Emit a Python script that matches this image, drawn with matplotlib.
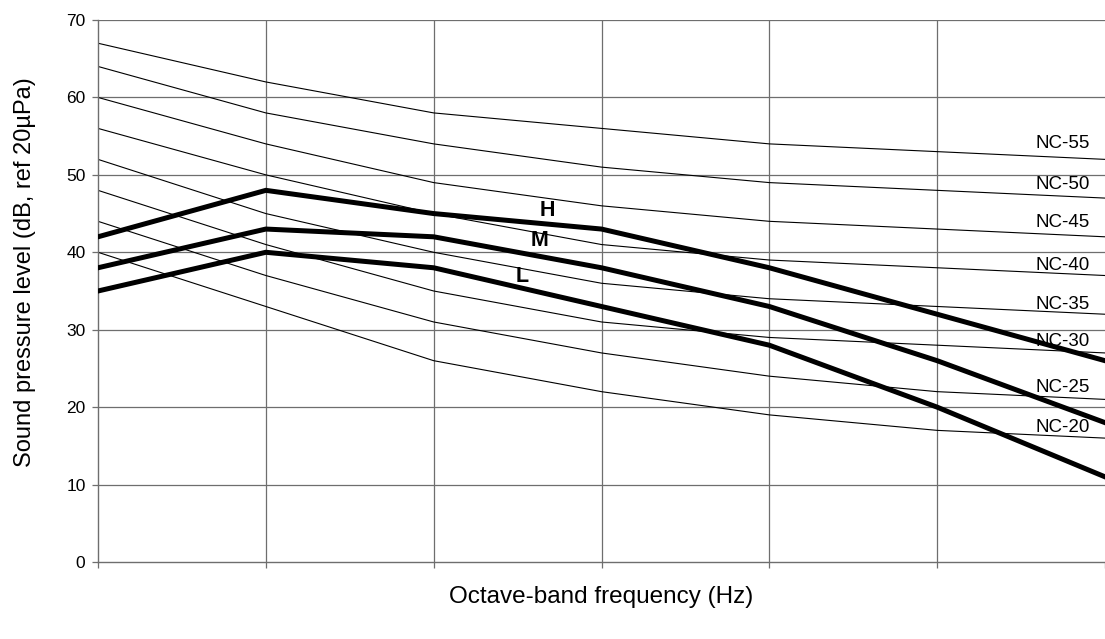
import matplotlib
matplotlib.use("Agg")
import matplotlib.pyplot as plt

plt.rcParams['font.family'] = ['Liberation Sans', 'DejaVu Sans']

# Octave bands 125 Hz .. 8 kHz (no tick labels shown)
bands = ["125", "250", "500", "1k", "2k", "4k", "8k"]

# Noise-criterion curves
nc_labels = ["NC-55", "NC-50", "NC-45", "NC-40", "NC-35", "NC-30", "NC-25", "NC-20"]
nc55 = [67, 62, 58, 56, 54, 53, 52]
nc50 = [64, 58, 54, 51, 49, 48, 47]
nc45 = [60, 54, 49, 46, 44, 43, 42]
nc40 = [56, 50, 45, 41, 39, 38, 37]
nc35 = [52, 45, 40, 36, 34, 33, 32]
nc30 = [48, 41, 35, 31, 29, 28, 27]
nc25 = [44, 37, 31, 27, 24, 22, 21]
nc20 = [40, 33, 26, 22, 19, 17, 16]
nc_curves = [nc55, nc50, nc45, nc40, nc35, nc30, nc25, nc20]
nc_label_y = [54.1, 48.8, 43.8, 38.3, 33.3, 28.5, 22.5, 17.4]

# Measured spectra
spec_names = ["H", "M", "L"]
spec_h = [42, 48, 45, 43, 38, 32, 26]
spec_m = [38, 43, 42, 38, 33, 26, 18]
spec_l = [35, 40, 38, 33, 28, 20, 11]
spectra = [spec_h, spec_m, spec_l]
spec_label_pos = [(2.68, 45.4), (2.63, 41.5), (2.53, 36.9)]

y_ticks = [0, 10, 20, 30, 40, 50, 60, 70]

fig = plt.figure(figsize=(11.05, 6.39), dpi=100)
ax = fig.add_axes([98 / 1105, 1 - 562 / 639, 1 - 98 / 1105, (562 - 20) / 639])

x = list(range(len(bands)))
grid_col = "#6e6e6e"

for yv in y_ticks[1:]:
    ax.axhline(yv, color=grid_col, lw=0.9, zorder=1)
for xv in x[1:-1]:
    ax.axvline(xv, color=grid_col, lw=0.9, zorder=1)

for vals in nc_curves:
    ax.plot(x, vals, color="black", lw=0.8, zorder=2)

for name, yv in zip(nc_labels, nc_label_y):
    ax.text(5.91, yv, name, ha="right", va="center", fontsize=13.5, zorder=2.5)

for vals in spectra:
    ax.plot(x, vals, color="black", lw=3.6, solid_joinstyle="miter", zorder=3)

for name, (px, py) in zip(spec_names, spec_label_pos):
    ax.text(px, py, name, ha="center", va="center", fontsize=15.5,
            fontweight="bold", zorder=4)

ax.set_xlim(0, 6)
ax.set_ylim(0, 70)
ax.set_yticks(y_ticks)
ax.set_xticks(x)
ax.set_xticklabels([])
ax.tick_params(axis="both", direction="out", length=4, width=0.9,
               color=grid_col, labelsize=12.5)
ax.tick_params(axis="y", pad=5)

for side in ["top", "right"]:
    ax.spines[side].set_visible(False)
for side in ["left", "bottom"]:
    ax.spines[side].set_color(grid_col)
    ax.spines[side].set_linewidth(1.0)

fig.text(25 / 1105, 1 - 272 / 639, "Sound pressure level (dB, ref 20µPa)",
         rotation=90, ha="center", va="center", fontsize=17)
fig.text(601 / 1105, 1 - 597 / 639, "Octave-band frequency (Hz)",
         ha="center", va="center", fontsize=17.5)

fig.savefig("out.png", dpi=100)
